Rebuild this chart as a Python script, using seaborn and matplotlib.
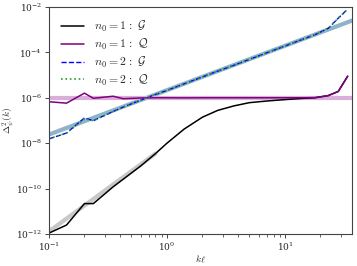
import numpy as np
import pandas as pd
import matplotlib
matplotlib.use("Agg")
import matplotlib.pyplot as plt
from matplotlib.ticker import NullFormatter
import seaborn as sns

# wavenumbers k*l of the sampled curves
k = [0.1, 0.141, 0.2, 0.238, 0.35, 0.426, 0.6, 0.8, 1.0, 1.4, 2.0, 2.7,
     3.7, 5.0, 7.0, 10, 14, 18, 23.3, 28.3, 34]

# n0 = 1
g1 = [1.1e-12, 2.5e-12, 2.2e-11, 2.2e-11, 1.2e-10, 2.6e-10, 1.0e-9, 3.5e-9,
      1.0e-8, 4.2e-8, 1.4e-7, 2.8e-7, 4.4e-7, 6.1e-7, 7.2e-7, 8.3e-7,
      9.4e-7, 1.0e-6, 1.25e-6, 1.9e-6, 8.9e-6]
q1 = [6.7e-7, 5.8e-7, 1.6e-6, 9.5e-7, 1.17e-6, 9.1e-7, 9.8e-7, 1.0e-6,
      1.0e-6, 9.9e-7, 1.0e-6, 1.0e-6, 1.0e-6, 1.0e-6, 1.0e-6, 1.0e-6,
      1.0e-6, 1.02e-6, 1.25e-6, 1.9e-6, 8.9e-6]

# n0 = 2
g2 = [1.55e-8, 2.8e-8, 1.3e-7, 9.8e-8, 2.5e-7, 3.9e-7, 7.9e-7, 1.4e-6,
      2.1e-6, 4.1e-6, 8.3e-6, 1.5e-5, 2.7e-5, 4.9e-5, 9.5e-5, 1.9e-4,
      3.7e-4, 6.0e-4, 1.15e-3, 3.2e-3, 8.0e-3]
q2 = [1.55e-8, 2.8e-8, 1.2e-7, 9.8e-8, 2.5e-7, 3.9e-7, 7.9e-7, 1.4e-6,
      2.1e-6, 4.1e-6, 8.3e-6, 1.5e-5, 2.7e-5, 4.9e-5, 9.5e-5, 1.9e-4,
      3.7e-4, 6.0e-4, 1.15e-3, 3.2e-3, 8.0e-3]

# reference power laws (end points)
ref2_k = [0.1, 37]
ref2_p = [2.4e-8, 2.5e-3]
ref1_k = [0.1, 37]
ref1_p = [1.0e-6, 1.0e-6]
ref0_k = [0.1, 0.8]
ref0_p = [1.3e-12, 3.5e-9]

yticks = [1e-12, 1e-10, 1e-8, 1e-6, 1e-4, 1e-2]
xticks = [0.1, 1, 10]

sns.set_style("ticks")
plt.rcParams["mathtext.fontset"] = "cm"
plt.rcParams["font.family"] = ["DejaVu Serif"]
plt.rcParams["axes.edgecolor"] = "#444444"

fig = plt.figure(figsize=(3.57, 2.66), dpi=100)
ax = fig.add_axes([0.137, 0.12, 0.849, 0.854])

sns.lineplot(x=ref2_k, y=ref2_p, ax=ax, color="#8fb3c9", lw=3, label="_ref2")
sns.lineplot(x=ref1_k, y=ref1_p, ax=ax, color="#d9afd9", lw=3, label="_ref1")
sns.lineplot(x=ref0_k, y=ref0_p, ax=ax, color="#c8c8c8", lw=3, label="_ref0")

sns.lineplot(x=k, y=g1, ax=ax, color="black", lw=1.1, sort=False,
             label=r"$n_0 = 1\,:\;\mathcal{G}$")
sns.lineplot(x=k, y=q1, ax=ax, color="purple", lw=1.1, sort=False,
             label=r"$n_0 = 1\,:\;\mathcal{Q}$")
sns.lineplot(x=k, y=g2, ax=ax, color="blue", lw=1.0, ls="--", sort=False,
             label=r"$n_0 = 2\,:\;\mathcal{G}$")
sns.lineplot(x=k, y=q2, ax=ax, color="#2ca02c", lw=1.2, ls=":", sort=False,
             label=r"$n_0 = 2\,:\;\mathcal{Q}$")

ax.set_xscale("log")
ax.set_yscale("log")
ax.set_xticks(xticks)
ax.set_yticks(yticks)
ax.set_xlim(0.1, 37)
ax.set_ylim(1e-12, 1e-2)
ax.xaxis.set_minor_formatter(NullFormatter())
ax.yaxis.set_minor_formatter(NullFormatter())
ax.set_xlabel(r"$k\ell$", fontsize=7)
ax.set_ylabel(r"$\Delta^2_\psi(k)$", fontsize=7)
ax.xaxis.set_label_coords(0.5, -0.085)
ax.yaxis.set_label_coords(-0.105, 0.5)
ax.tick_params(labelsize=6.5, length=3, width=0.6, pad=2)
ax.tick_params(which="minor", length=1.8, width=0.5)

leg = ax.legend(loc="upper left", frameon=False, fontsize=8.5,
                handlelength=2.0, labelspacing=0.25, borderaxespad=0.6)

fig.savefig("out.png", dpi=100)
